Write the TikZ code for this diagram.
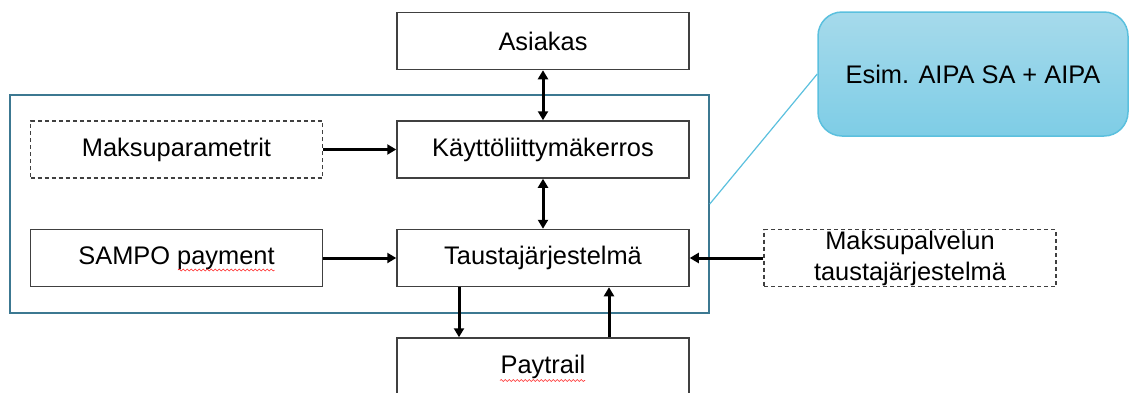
\documentclass[tikz,border=0pt]{standalone}
\usepackage{fontspec}
\setmainfont{Liberation Sans}
\usetikzlibrary{positioning, arrows.meta}
\usetikzlibrary{decorations.pathmorphing}
\definecolor{frameteal}{RGB}{60,120,145}
\definecolor{calloutline}{RGB}{91,192,222}
\definecolor{callouttop}{RGB}{166,218,235}
\definecolor{calloutbot}{RGB}{126,205,230}
\tikzstyle{box}=[rectangle, draw=black!75, line width=0.75pt,
fill=white,
text centered, align=center,
minimum width=146pt,
minimum height=28.5pt,
inner sep=0pt,
font=\fontsize{12.7}{15.5}\selectfont]
\tikzstyle{dbox}=[box, dash pattern=on 2pt off 1.5pt]
\tikzstyle{flow}=[line width=1.5pt, -{Triangle[width=5pt,length=4.5pt]}]
\tikzstyle{flowboth}=[line width=1.5pt, {Triangle[width=5pt,length=4.5pt]}-{Triangle[width=5pt,length=4.5pt]}]
\tikzstyle{squiggle}=[red!85, line width=0.3pt, decorate, decoration={snake, amplitude=0.5pt, segment length=2pt}]

\begin{document}
\begin{tikzpicture}[x=0.5pt, y=-0.5pt]
\clip (0,0) rectangle (1130,392);

% frame round the own system
\node [draw=frameteal, line width=0.75pt, minimum width=349.5pt, minimum height=109pt, inner sep=0pt] (alue) at (359.5,204) {};

\node [box] (asiakas) at (543,41) {Asiakas};
\node [box] (kayttoliittyma) at (543,149.5) {Käyttöliittymäkerros};
\node [dbox] (parametrit) at (176.5,149.5) {Maksuparametrit};
\node [box] (sampo) at (176.5,258) {SAMPO payment};
\node [box] (tausta) at (543,258) {Taustajärjestelmä};
\node [dbox] (maksupalvelu) at (910,258) {Maksupalvelun\\taustajärjestelmä};
\node [box] (paytrail) at (543,366.5) {Paytrail};

% callout
\node [rectangle, rounded corners=12pt, draw=calloutline, line width=0.75pt,
  top color=callouttop, bottom color=calloutbot,
  minimum width=155pt, minimum height=62pt,
  font=\fontsize{12.7}{15.5}\selectfont] (esim) at (973,74) {Esim. AIPA SA + AIPA};
\draw [calloutline, line width=0.6pt] (alue.east) to (esim.west);

\draw [flowboth] (asiakas) to (kayttoliittyma);
\draw [flowboth] (kayttoliittyma) to (tausta);
\draw [flow] (parametrit) to (kayttoliittyma);
\draw [flow] (sampo) to (tausta);
\draw [flow] (maksupalvelu) to (tausta);
\draw [flow] ([xshift=-42pt]tausta.south) to ([xshift=-42pt]paytrail.north);
\draw [flow] ([xshift=33pt]paytrail.north) to ([xshift=33pt]tausta.south);

% spell check marks
\draw [squiggle] ([xshift=0.75pt,yshift=-6pt]sampo.center) to ([xshift=49pt,yshift=-6pt]sampo.center);
\draw [squiggle] ([xshift=-21.5pt,yshift=-7pt]paytrail.center) to ([xshift=21pt,yshift=-7pt]paytrail.center);

\end{tikzpicture}
\end{document}
